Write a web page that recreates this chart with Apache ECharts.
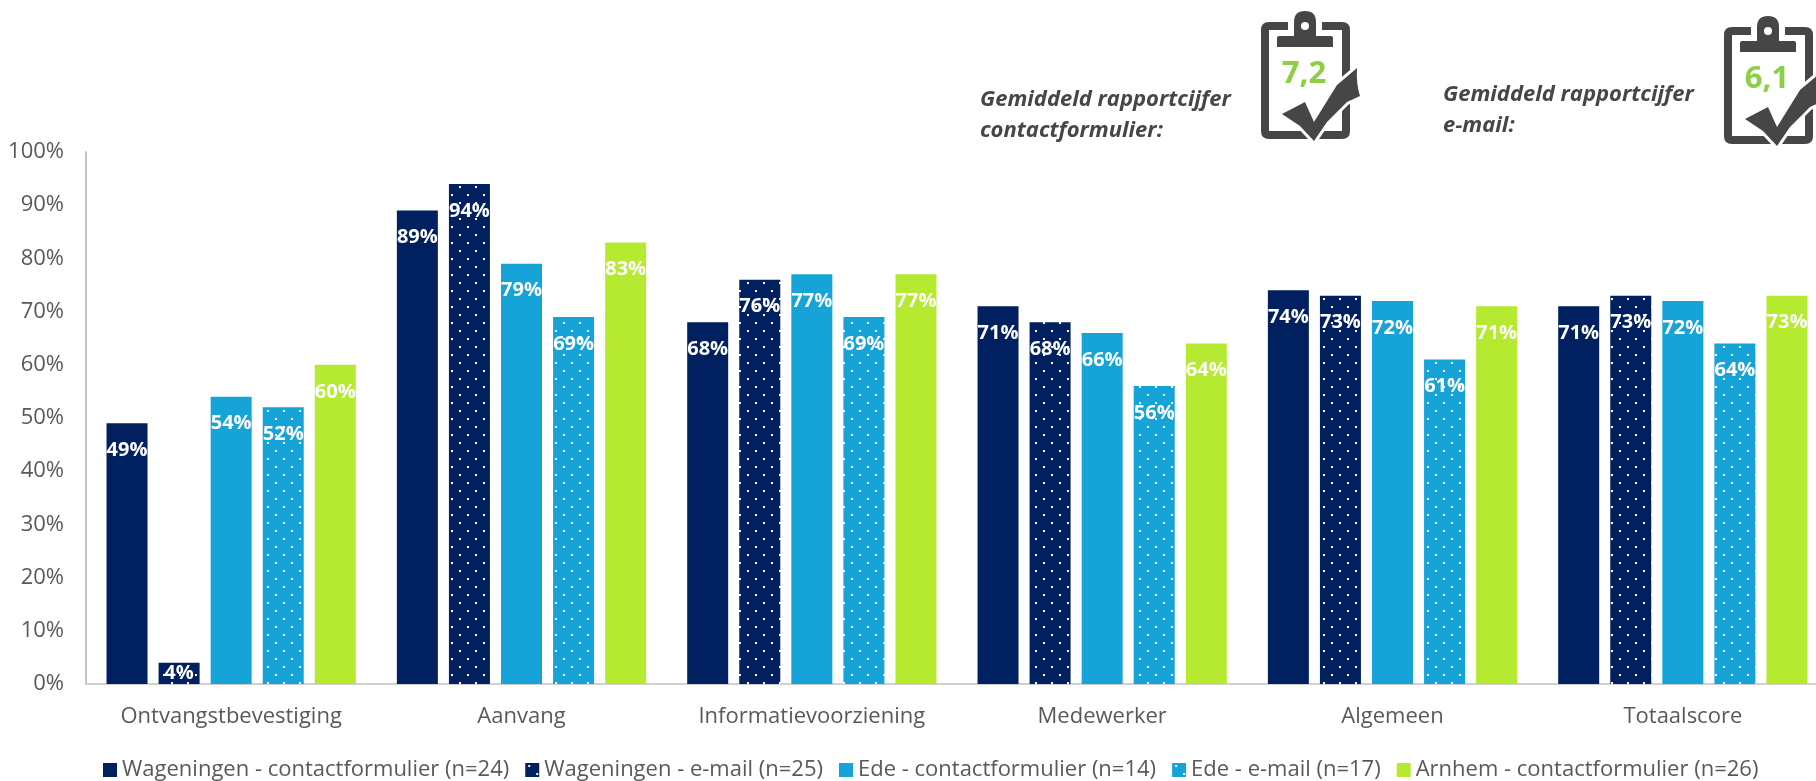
<!DOCTYPE html>
<html>
<head>
<meta charset="utf-8">
<style>html,body{margin:0;padding:0;background:#fff}#chart{width:1816px;height:781px}</style>
<script src="https://cdn.jsdelivr.net/npm/echarts@6/dist/echarts.min.js"></script>
</head>
<body>
<div id="chart"></div>
<script>
const categories = ['Ontvangstbevestiging', 'Aanvang', 'Informatievoorziening', 'Medewerker', 'Algemeen', 'Totaalscore'];
const wageningenForm = [49, 89, 68, 71, 74, 71];
const wageningenMail = [4, 94, 76, 68, 73, 73];
const edeForm = [54, 79, 77, 66, 72, 72];
const edeMail = [52, 69, 69, 56, 61, 64];
const arnhemForm = [60, 83, 77, 64, 71, 73];
const seriesNames = [
  'Wageningen - contactformulier (n=24)',
  'Wageningen - e-mail (n=25)',
  'Ede - contactformulier (n=14)',
  'Ede - e-mail (n=17)',
  'Arnhem - contactformulier (n=26)'
];
const NAVY = '#00205f', BLUE = '#15a3d8', LIME = '#b5ea31';
const FONT = '"Open Sans", sans-serif';
const GREY = '#595959', DARK = '#464646', SCORE = '#8ccf45';

// Outline shapes of the clipboard icon
echarts.graphic.registerShape('boardFrame', echarts.graphic.extendPath(
  'M8 0H27V8H8V109H81V8H61V0H81Q89 0 89 8V109Q89 117 81 117H8Q0 117 0 109V8Q0 0 8 0Z'));
echarts.graphic.registerShape('boardClip', echarts.graphic.extendPath(
  'M33 14V0Q33 -11 44 -11Q55 -11 55 0V14H70Q72 14 72 16V25H16V16Q16 14 18 14Z'));
echarts.graphic.registerShape('boardTick', echarts.graphic.extendPath(
  'M21 92L44 80L53 100L76 63L96 46Q95 62 99 74L86 80L66 100L53 119L39 104Z'));

// Staggered white dots on a solid fill, used for the e-mail series
function dotted(color) {
  const c = document.createElement('canvas');
  c.width = 16; c.height = 16;
  const g = c.getContext('2d');
  g.fillStyle = color; g.fillRect(0, 0, 16, 16);
  g.fillStyle = '#fff';
  g.fillRect(3, 2, 2, 2);
  g.fillRect(11, 10, 2, 2);
  return { image: c, repeat: 'repeat' };
}

function barSeries(i, values, color) {
  return {
    name: seriesNames[i],
    type: 'bar',
    data: values.map(v => v < 10
      ? { value: v, label: { position: 'inside' } }
      : v),
    barWidth: 41,
    barGap: '27%',
    itemStyle: { color },
    label: {
      show: true,
      position: 'insideTop',
      distance: 17,
      formatter: p => p.value + '%',
      color: '#fff',
      fontFamily: FONT,
      fontWeight: 700,
      fontSize: 20
    }
  };
}

// Clipboard with tick, drawn at a given offset, carrying the average score
function clipboard(dx, dy, score) {
  const dark = { fill: DARK };
  return {
    type: 'group', x: dx, y: dy,
    children: [
      { type: 'boardFrame', style: dark },
      { type: 'boardClip', style: dark },
      { type: 'circle', shape: { cx: 44, cy: 4, r: 4 }, style: { fill: '#fff' } },
      { type: 'boardTick', style: { fill: '#fff', stroke: '#fff', lineWidth: 6 } },
      { type: 'boardTick', style: dark },
      { type: 'text', x: 43, y: 52, style: { text: score, fill: SCORE, font: '700 31px ' + FONT, textAlign: 'center', textVerticalAlign: 'middle' } }
    ]
  };
}

function caption(x, y, lines) {
  return lines.map((t, i) => ({
    type: 'text', x, y: y + i * 31,
    style: { text: t, fill: DARK, font: 'italic 700 22px ' + FONT, textAlign: 'left', textVerticalAlign: 'middle' }
  }));
}

const chart = echarts.init(document.getElementById('chart'), null, { renderer: 'canvas' });
chart.setOption({
  animation: false,
  backgroundColor: '#fff',
  grid: { left: 86, top: 152, width: 1742, height: 532, outerBoundsMode: 'none' },
  xAxis: {
    type: 'category',
    data: categories,
    axisLine: { lineStyle: { color: '#d0d0d0', width: 2 } },
    axisTick: { show: false },
    axisLabel: { interval: 0, color: GREY, fontFamily: FONT, fontSize: 22, margin: 22 }
  },
  yAxis: {
    type: 'value',
    min: 0, max: 100, interval: 10,
    axisLine: { show: true, lineStyle: { color: '#c4c4c4', width: 2 } },
    axisTick: { show: false },
    splitLine: { show: false },
    axisLabel: { color: GREY, fontFamily: FONT, fontSize: 22, margin: 22, padding: [3, 0, 0, 0], formatter: '{value}%' }
  },
  legend: {
    left: 103, top: 759,
    itemWidth: 14, itemHeight: 14,
    itemGap: 16,
    padding: 0,
    icon: 'rect',
    textStyle: { color: GREY, fontFamily: FONT, fontSize: 22 },
    data: seriesNames
  },
  series: [
    barSeries(0, wageningenForm, NAVY),
    barSeries(1, wageningenMail, dotted(NAVY)),
    barSeries(2, edeForm, BLUE),
    barSeries(3, edeMail, dotted(BLUE)),
    barSeries(4, arnhemForm, LIME)
  ],
  graphic: [
    ...caption(980, 100, ['Gemiddeld rapportcijfer', 'contactformulier:']),
    ...caption(1443, 95, ['Gemiddeld rapportcijfer', 'e-mail:']),
    clipboard(1261, 22, '7,2'),
    clipboard(1724, 27, '6,1')
  ]
});
</script>
</body>
</html>
